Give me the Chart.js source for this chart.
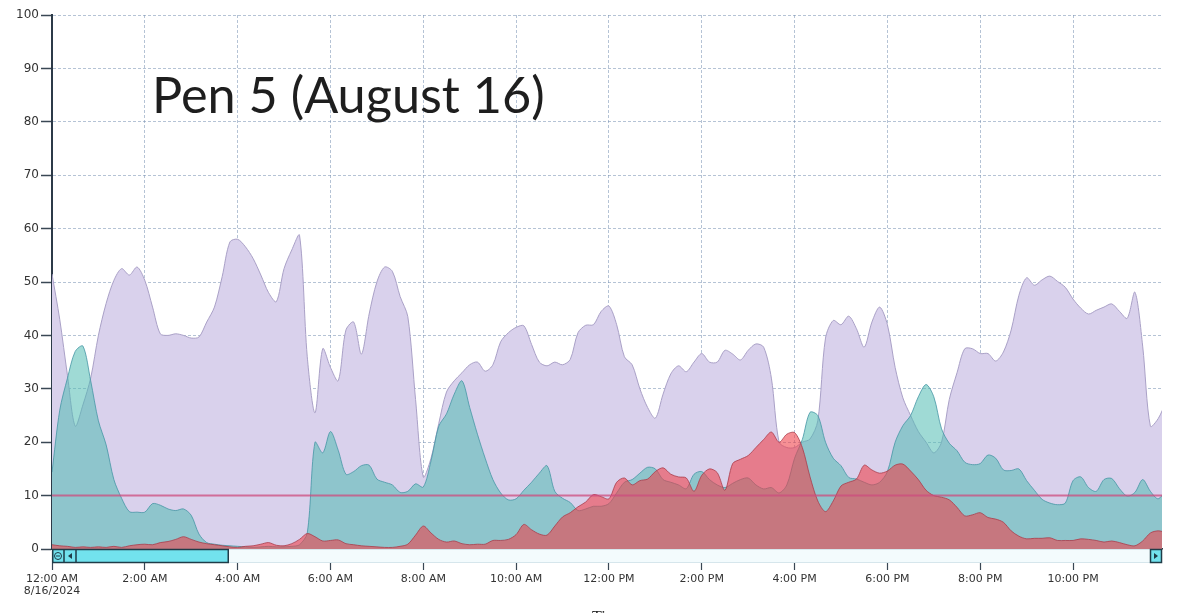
<!DOCTYPE html>
<html>
<head>
<meta charset="utf-8">
<title>Pen 5 (August 16)</title>
<script src="https://cdn.jsdelivr.net/npm/chart.js@4.4.1/dist/chart.umd.min.js"></script>
<style>
	html, body { margin: 0; padding: 0; background: #ffffff; }
	#chart { display: block; }
</style>
</head>
<body>
<canvas id="chart" width="1178" height="613"></canvas>
<script>
// samples every 10 minutes, 12:00 AM .. 12:00 AM next day
const sampleMinutes = Array.from({ length: 145 }, (_, i) => i * 10);

const penPurple = [
	51.5, 43, 32.5, 23, 27, 32, 40, 46, 50.3, 52.5, 51.3, 52.8,
	50.3, 45.3, 40.3, 40, 40.3, 40, 39.5, 39.7, 42.5, 45.3, 51, 57.5,
	58, 56.6, 54.4, 51.3, 48, 46.3, 52.5, 56, 58.75, 36, 25.5, 37.5,
	34, 31.5, 41, 42.5, 36.5, 44, 50, 52.8, 52, 47.3, 43.5, 28,
	13.5, 17, 23.5, 29.4, 31.5, 33, 34.5, 35, 33.3, 34.5, 38.8, 40.5,
	41.5, 41.8, 38.3, 35, 34.3, 35, 34.5, 35.5, 40.5, 41.9, 42, 44.5,
	45.5, 42, 36, 34.5, 30, 26.5, 24.5, 29, 32.8, 34.3, 33.2, 35,
	36.6, 35, 35, 37.2, 36.5, 35.4, 37.2, 38.4, 37.8, 32, 20, 19,
	19, 20, 20.6, 24, 39.5, 42.8, 42, 43.6, 41.25, 37.8, 42.5, 45.3,
	42, 34, 28.3, 25, 22, 20, 18, 20, 28, 33, 37.5, 37.5,
	36.6, 36.6, 35.2, 36.9, 41, 47.5, 50.8, 49.4, 50.4, 51.1, 50.1, 49,
	46.8, 45.1, 44, 44.7, 45.3, 45.9, 44.5, 43.2, 48.1, 38, 23, 24.4,
	27.5
];

const penTeal = [
	14.4, 26, 32, 37, 38, 31.5, 24, 19.5, 13, 9.5, 7, 6.9,
	6.9, 8.5, 8.2, 7.5, 7.2, 7.5, 6.3, 2.8, 1.2, 0.9, 0.7, 0.6,
	0.5, 0.4, 0.3, 0.4, 0.5, 0.4, 0.4, 0.5, 0.8, 3, 20, 18,
	22, 18.5, 14, 14.5, 15.6, 15.7, 13.1, 12.5, 12, 10.6, 10.8, 12.2,
	11.6, 16.5, 23, 25.3, 29, 31.5, 26.5, 21.5, 17, 13, 10.5, 9.2,
	9.4, 11, 12.5, 14.2, 15.6, 10.8, 9.5, 8.7, 7.2, 7.5, 8, 8,
	8.5, 10.5, 12.5, 13, 14.2, 15.3, 15, 13, 12.5, 12, 11.3, 14,
	14.5, 13, 12, 11.5, 12.3, 13, 13.3, 12, 11.25, 11.5, 10.5, 12,
	17, 20.5, 25.6, 25, 20, 17, 15.6, 13.4, 13.1, 12.5, 12, 12.5,
	14.5, 20, 23.1, 25, 28.5, 30.8, 28.5, 22.5, 19.8, 18.4, 16.25, 15.8,
	16, 17.6, 17, 14.8, 14.7, 15, 12.8, 11, 9.3, 8.6, 8.3, 8.6,
	12.8, 13.5, 11.5, 10.8, 13, 13.2, 11.3, 9.9, 10.6, 13, 10.8, 9.4,
	11
];

const penRed = [
	0.8, 0.6, 0.5, 0.3, 0.4, 0.3, 0.4, 0.3, 0.5, 0.3, 0.6, 0.8,
	0.9, 0.8, 1.2, 1.4, 1.8, 2.3, 1.8, 1.3, 1, 0.8, 0.6, 0.4,
	0.3, 0.5, 0.6, 0.9, 1.2, 0.7, 0.6, 1, 1.8, 2.9, 2.3, 1.5,
	1.6, 1.7, 1, 0.8, 0.6, 0.5, 0.4, 0.3, 0.3, 0.5, 0.9, 2.6,
	4.3, 3, 1.8, 1.3, 1.5, 1, 0.8, 0.9, 0.9, 1.6, 1.6, 1.8,
	2.7, 4.6, 3.6, 2.8, 2.6, 4.3, 6, 6.8, 7.9, 8.8, 10.2, 9.8,
	9.4, 12.5, 13.3, 12, 12.8, 13.1, 14.5, 15.2, 14, 13.5, 13.3, 10.8,
	13.8, 15, 14.3, 11, 16, 16.8, 17.5, 19, 20.5, 21.9, 20, 21.5,
	21.8, 19, 13.5, 9, 7, 9, 11.8, 12.5, 13.1, 15.7, 14.8, 14.2,
	14.6, 15.7, 15.9, 14.6, 13, 11, 10, 9.7, 9.2, 7.8, 6.2, 6.4,
	6.8, 5.9, 5.6, 5, 3.4, 2.4, 1.9, 2, 2, 2.1, 1.6, 1.6,
	1.6, 1.9, 1.8, 1.6, 1.3, 1.5, 1.2, 0.8, 0.6, 1.5, 3, 3.4,
	3.1
];

const limitLine = [{ x: 0, y: 10 }, { x: 1440, y: 10 }];

const xTickValues = [0, 120, 240, 360, 480, 600, 720, 840, 960, 1080, 1200, 1320];
const xTickLabels = [
	['12:00 AM', '8/16/2024'], '2:00 AM', '4:00 AM', '6:00 AM', '8:00 AM', '10:00 AM',
	'12:00 PM', '2:00 PM', '4:00 PM', '6:00 PM', '8:00 PM', '10:00 PM'
];

const chartTitle = 'Pen 5 (August 16)';

const toPoints = values => values.map((v, i) => ({ x: sampleMinutes[i], y: v }));

const gridColor = 'rgba(120, 145, 178, 0.55)';
const axisColor = '#2c3a48';
const labelFont = { family: 'DejaVu Sans', size: 11, lineHeight: 1.1 };

const decorations = {
	id: 'decorations',
	beforeDraw(chart) {
		const ctx = chart.ctx;
		ctx.save();
		ctx.fillStyle = '#ffffff';
		ctx.fillRect(0, 0, chart.width, chart.height);
		ctx.restore();
	},
	afterDraw(chart) {
		const ctx = chart.ctx;
		const a = chart.chartArea;
		ctx.save();

		// title inside the plot, fitted to the reference width
		let size = 44;
		ctx.font = size + 'px Lato';
		size = size * 393 / ctx.measureText(chartTitle).width;
		ctx.font = size.toFixed(1) + 'px Lato';
		ctx.fillStyle = '#1e1e1e';
		ctx.textBaseline = 'alphabetic';
		ctx.fillText(chartTitle, 152, 113);

		// scrollbar under the plot
		const y0 = a.bottom + 0.5;
		const h = 13;
		ctx.fillStyle = '#f3fbfd';
		ctx.fillRect(a.left, y0, a.right - a.left, h);
		ctx.strokeStyle = '#d6e6ec';
		ctx.lineWidth = 1;
		ctx.strokeRect(a.left + 0.5, y0, a.right - a.left - 1, h);

		ctx.fillStyle = '#72e2ee';
		ctx.fillRect(a.left, y0, 176, h);
		ctx.strokeStyle = '#1f3c48';
		ctx.lineWidth = 1.5;
		ctx.strokeRect(a.left + 0.75, y0, 175.5, h);
		ctx.beginPath();
		ctx.moveTo(a.left + 12, y0);
		ctx.lineTo(a.left + 12, y0 + h);
		ctx.moveTo(a.left + 24, y0);
		ctx.lineTo(a.left + 24, y0 + h);
		ctx.stroke();

		// zoom-out icon
		ctx.lineWidth = 1;
		ctx.strokeStyle = '#1f3c48';
		ctx.beginPath();
		ctx.arc(a.left + 6, y0 + h / 2, 3.5, 0, Math.PI * 2);
		ctx.moveTo(a.left + 4, y0 + h / 2);
		ctx.lineTo(a.left + 8, y0 + h / 2);
		ctx.stroke();

		// arrows
		ctx.fillStyle = '#1f3c48';
		ctx.beginPath();
		ctx.moveTo(a.left + 16, y0 + h / 2);
		ctx.lineTo(a.left + 20, y0 + h / 2 - 3);
		ctx.lineTo(a.left + 20, y0 + h / 2 + 3);
		ctx.closePath();
		ctx.fill();

		ctx.fillStyle = '#72e2ee';
		ctx.fillRect(a.right - 12, y0, 12, h);
		ctx.strokeStyle = '#1f3c48';
		ctx.lineWidth = 1.5;
		ctx.strokeRect(a.right - 11.5, y0, 11, h);
		ctx.fillStyle = '#1f3c48';
		ctx.beginPath();
		ctx.moveTo(a.right - 4, y0 + h / 2);
		ctx.lineTo(a.right - 8, y0 + h / 2 - 3);
		ctx.lineTo(a.right - 8, y0 + h / 2 + 3);
		ctx.closePath();
		ctx.fill();

		// axis title, mostly below the frame
		ctx.fillStyle = '#222222';
		ctx.font = '16px "Liberation Serif"';
		ctx.textBaseline = 'top';
		ctx.fillText('Time', 592, 610);

		ctx.restore();
	}
};

new Chart(document.getElementById('chart'), {
	type: 'line',
	data: {
		datasets: [
			{
				label: 'Limit',
				data: limitLine,
				borderColor: 'rgba(205, 75, 125, 0.75)',
				borderWidth: 2,
				pointRadius: 0,
				fill: false
			},
			{
				label: 'Red',
				data: toPoints(penRed),
				borderColor: 'rgba(170, 60, 75, 0.8)',
				backgroundColor: 'rgba(240, 62, 70, 0.58)',
				borderWidth: 1,
				pointRadius: 0,
				tension: 0.3,
				fill: 'origin'
			},
			{
				label: 'Teal',
				data: toPoints(penTeal),
				borderColor: 'rgba(70, 150, 165, 0.8)',
				backgroundColor: 'rgba(80, 188, 179, 0.55)',
				borderWidth: 1,
				pointRadius: 0,
				tension: 0.3,
				fill: 'origin'
			},
			{
				label: 'Purple',
				data: toPoints(penPurple),
				borderColor: '#aaa1c7',
				backgroundColor: '#d9d1ec',
				borderWidth: 1,
				pointRadius: 0,
				tension: 0.3,
				fill: 'origin'
			}
		]
	},
	options: {
		responsive: false,
		devicePixelRatio: 1,
		animation: false,
		layout: {
			padding: { left: 0, top: 15, right: 16, bottom: 0 }
		},
		plugins: {
			legend: { display: false },
			title: { display: false },
			tooltip: { enabled: false }
		},
		scales: {
			x: {
				type: 'linear',
				min: 0,
				max: 1435,
				z: 1,
				afterBuildTicks: scale => {
					scale.ticks = xTickValues.map(v => ({ value: v }));
				},
				afterFit: scale => {
					scale.height = 64;
				},
				grid: {
					color: gridColor,
					lineWidth: 1,
					drawTicks: true,
					tickLength: 21,
					tickColor: '#3a4754',
					tickWidth: 1.2
				},
				border: {
					display: true,
					color: axisColor,
					width: 1.5,
					dash: [3, 2]
				},
				ticks: {
					padding: 3,
					autoSkip: false,
					maxRotation: 0,
					color: '#333333',
					font: labelFont,
					callback: value => xTickLabels[xTickValues.indexOf(value)]
				}
			},
			y: {
				min: 0,
				max: 100,
				z: 1,
				afterFit: scale => {
					scale.width = 52;
				},
				grid: {
					color: gridColor,
					lineWidth: 1,
					tickLength: 11,
					tickColor: '#3a4754',
					tickWidth: 1.5
				},
				border: {
					display: true,
					color: axisColor,
					width: 2,
					dash: [3, 2]
				},
				ticks: {
					stepSize: 10,
					padding: 2,
					color: '#333333',
					font: { family: 'DejaVu Sans', size: 12 }
				}
			}
		}
	},
	plugins: [decorations]
});
</script>
</body>
</html>
